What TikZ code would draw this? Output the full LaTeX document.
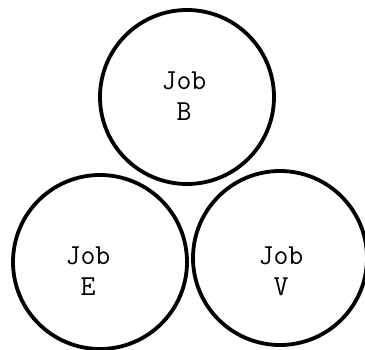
\documentclass[tikz,border=0pt]{standalone}
\usepackage{fontspec}
\begin{document}
\begin{tikzpicture}[x=1pt, y=-1pt,
    jobcircle/.style={circle, draw, line width=3.8pt, minimum size=174pt, inner sep=0pt},
    jobtext/.style={font=\ttfamily\fontsize{29}{31}\selectfont\addfontfeatures{FakeBold=1.2}, align=center}]
  \useasboundingbox (0,0) rectangle (365,350);
  % The three job circles
  \node[jobcircle] (B) at (187,97) {};
  \node[jobcircle] (E) at (100,262) {};
  \node[jobcircle] (V) at (280,258) {};
  % Labels inside the circles
  \node[jobtext] (Blabel) at (184,96) {Job\\B};
  \node[jobtext] (Elabel) at (88,271) {Job\\E};
  \node[jobtext] (Vlabel) at (281,271) {Job\\V};
\end{tikzpicture}
\end{document}
